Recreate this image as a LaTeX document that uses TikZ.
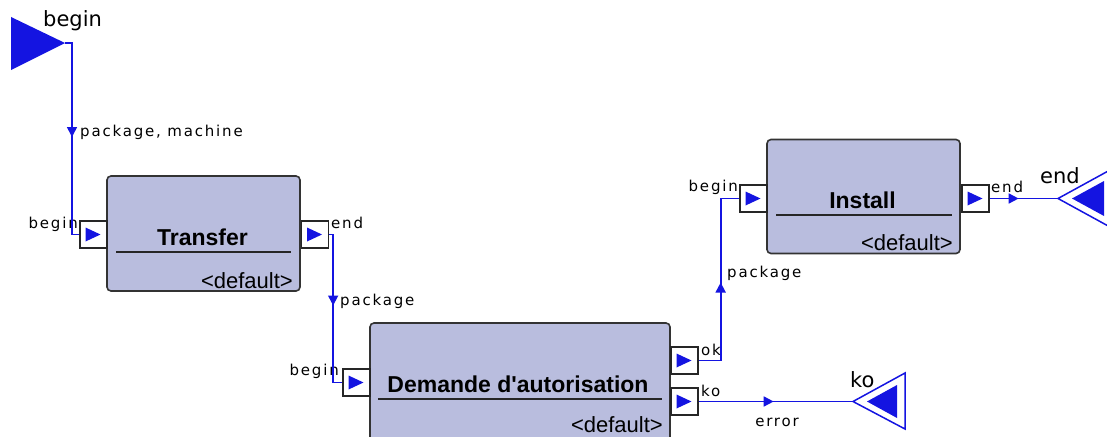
\documentclass[tikz,border=0pt]{standalone}
\usepackage{fontspec}
\setmainfont{Liberation Sans}
\newfontfamily\blockfont{Liberation Sans}
\newfontfamily\labelfont[LetterSpace=12]{DejaVu Sans}
\newfontfamily\termfont{DejaVu Sans}
\usetikzlibrary{arrows.meta, positioning, decorations.markings}
\definecolor{wireblue}{RGB}{20,20,225}
\definecolor{blockfill}{RGB}{185,189,222}

\tikzset{
 block/.style={draw=black!80, line width=1.6pt, fill=blockfill, rounded corners=4pt, inner sep=0pt},
 port/.style={draw=black!85, line width=1.3pt, fill=white, minimum size=27pt, inner sep=0pt,
  path picture={\fill[wireblue] ([xshift=-8pt,yshift=7pt]path picture bounding box.center) -- ++(15pt,-7pt) -- ++(-15pt,-7pt) -- cycle;}},
 wire/.style={draw=wireblue, line width=1.7pt},
 flowat/.style={postaction={decorate, decoration={markings, mark=at position #1 with {\arrow[wireblue]{Triangle[length=10pt,width=10pt]}}}}},
 lbl/.style={font=\labelfont\fontsize{15}{17}\selectfont, inner sep=1pt},
 title/.style={font=\blockfont\bfseries\fontsize{23}{26}\selectfont, inner sep=0pt},
 dflt/.style={font=\blockfont\fontsize{22}{24}\selectfont, inner sep=0pt},
 term/.style={font=\termfont\fontsize{21}{23}\selectfont, inner sep=0pt},
 sep/.style={draw=black!85, line width=1.2pt}
}

\begin{document}
\begin{tikzpicture}[x=1pt, y=-1pt]
 \useasboundingbox (0,0) rectangle (1107,436);
 \clip (0,0) rectangle (1107,436);

 % blocks
 \node[block, minimum width=193pt, minimum height=115pt] (transfer) at (203.5,233.5) {};
 \node[title, anchor=base] (transfertitle) at (202.5,245) {Transfer};
 \draw[sep] (116,252) -- (291,252);
 \node[dflt, anchor=base east] (transferdflt) at (293,288) {<default>};

 \node[block, minimum width=300pt, minimum height=130pt] (demande) at (520,388) {};
 \node[title, anchor=base] (demandetitle) at (518,392) {Demande d'autorisation};
 \draw[sep] (378,399) -- (662,399);
 \node[dflt, anchor=base east] (demandedflt) at (663,432) {<default>};

 \node[block, minimum width=193pt, minimum height=114pt] (install) at (863.5,196.5) {};
 \node[title, anchor=base] (installtitle) at (862.5,208) {Install};
 \draw[sep] (776,215) -- (952,215);
 \node[dflt, anchor=base east] (installdflt) at (953,250) {<default>};

 % ports
 \node[port] (tin) at (93.5,234.5) {};
 \node[port] (tout) at (315,234.5) {};
 \node[port] (din) at (356.5,382.5) {};
 \node[port] (dok) at (684.5,360.5) {};
 \node[port] (dko) at (684.5,401.5) {};
 \node[port] (iin) at (753.5,198.5) {};
 \node[port] (iout) at (975.5,198.5) {};

 \node[lbl, anchor=east] (tinlbl) at (79,224) {begin};
 \node[lbl, anchor=west] (toutlbl) at (330,223) {end};
 \node[lbl, anchor=east] (dinlbl) at (340,371) {begin};
 \node[lbl, anchor=west] (doklbl) at (700,350) {ok};
 \node[lbl, anchor=west] (dkolbl) at (700,391) {ko};
 \node[lbl, anchor=east] (iinlbl) at (739,187) {begin};
 \node[lbl, anchor=west] (ioutlbl) at (990,187) {end};

 % terminals
 \fill[wireblue] (11,17) -- (65,43) -- (11,70) -- cycle;
 \coordinate (begintip) at (65,43);
 \node[term, anchor=base west] (beginterm) at (43,27) {begin};

 \draw[wireblue, line width=1.5pt] (853,401.5) -- (905,373) -- (905,429) -- cycle;
 \fill[wireblue] (867,401.5) -- (897,385) -- (897,418) -- cycle;
 \coordinate (kotip) at (853,401.5);
 \node[term, anchor=base west] (koterm) at (850,387) {ko};

 \draw[wireblue, line width=1.5pt] (1058,198.5) -- (1110,170) -- (1110,227) -- cycle;
 \fill[wireblue] (1072,198.5) -- (1104,181) -- (1104,216) -- cycle;
 \coordinate (endtip) at (1058,198.5);
 \node[term, anchor=base west] (endterm) at (1040,183) {end};

 % wires
 \draw[wire, flowat=101pt] (begintip) -- ++(7,0) |- (tin.west);
 \node[lbl, anchor=west] (pkgmach) at (79,132) {package, machine};

 \draw[wire, flowat=75pt] (tout.east) -- ++(4,0) |- (din.west);
 \node[lbl, anchor=west] (pkgone) at (339,301) {package};

 \draw[wire, flowat=100pt] (dok.east) -- ++(22,0) |- (iin.west);
 \node[lbl, anchor=west] (pkgtwo) at (726,273) {package};

 \draw[wire, flowat=75pt] (dko.east) -- (kotip);
 \node[lbl] (errlbl) at (777,422) {error};

 \draw[wire, flowat=29pt] (iout.east) -- (endtip);
\end{tikzpicture}
\end{document}
